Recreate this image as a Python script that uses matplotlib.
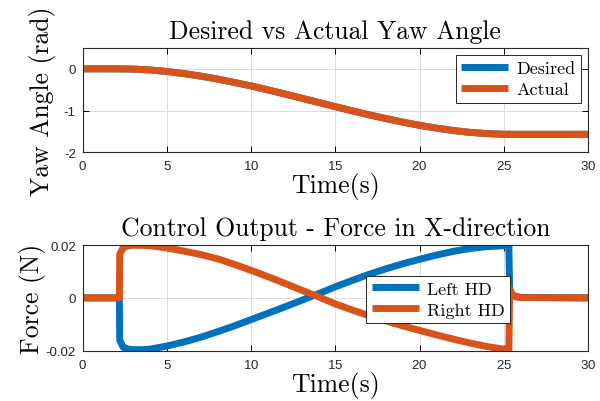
import matplotlib
matplotlib.use('Agg')
import matplotlib.pyplot as plt

plt.rcParams['font.family'] = ['Liberation Sans', 'DejaVu Sans']
plt.rcParams['axes.formatter.use_mathtext'] = True

BLUE = '#0072BD'
ORANGE = '#D95319'

# yaw angle (rad), desired and actual overlap
t_yaw = [0, 1, 2, 3, 4, 5, 6, 7, 8, 9, 10, 11, 12, 13, 14, 15, 16, 17, 18, 19,
         20, 21, 22, 23, 24, 25, 26, 27, 28, 29, 30]
yaw_desired = [0, 0, 0, -0.005, -0.027, -0.062, -0.113, -0.174, -0.245, -0.326,
               -0.41, -0.506, -0.603, -0.705, -0.806, -0.908, -1.007, -1.103,
               -1.193, -1.278, -1.356, -1.422, -1.480, -1.525, -1.555, -1.570,
               -1.571, -1.571, -1.571, -1.571, -1.571]
yaw_actual = [0, 0, 0, -0.005, -0.027, -0.062, -0.113, -0.174, -0.245, -0.326,
              -0.41, -0.506, -0.603, -0.705, -0.806, -0.908, -1.007, -1.103,
              -1.193, -1.278, -1.356, -1.422, -1.480, -1.525, -1.555, -1.570,
              -1.571, -1.571, -1.571, -1.571, -1.571]

# control force (N)
t_force = [0, 2.17, 2.19, 2.4, 2.7, 3, 3.5, 4, 5, 6, 7, 8, 9, 10, 11, 12, 13, 14,
           15, 16, 17, 18, 19, 20, 21, 22, 23, 24, 25, 25.3, 25.35, 25.5, 25.7,
           26, 30]
left_hd = [0, 0, -0.0160, -0.0187, -0.0194, -0.0196, -0.0196, -0.0194, -0.0182,
           -0.0167, -0.0149, -0.0128, -0.0106, -0.0082, -0.0058, -0.0034,
           -0.0009, 0.0016, 0.0042, 0.0066, 0.0089, 0.0110, 0.0129, 0.0146,
           0.0162, 0.0176, 0.0187, 0.0194, 0.0197, 0.0198, 0.0018, 0.0012,
           0.0006, 0.0002, 0]
right_hd = [0, 0, 0.0165, 0.0190, 0.0197, 0.0199, 0.0199, 0.0197, 0.0189,
            0.0177, 0.0164, 0.0148, 0.0127, 0.0104, 0.0080, 0.0055, 0.0029,
            0.0004, -0.0023, -0.0046, -0.0067, -0.0087, -0.0106, -0.0123,
            -0.0140, -0.0156, -0.0171, -0.0184, -0.0194, -0.0197, 0.0035,
            0.0012, 0.0004, 0.0001, 0]

serif = 'cmr10'
fig = plt.figure(figsize=(6.0, 4.02), dpi=100)
ax1 = fig.add_axes([0.138, 0.619, 0.842, 0.259])
ax2 = fig.add_axes([0.138, 0.125, 0.842, 0.263])

lw = 5
big = 18.5

def style(ax):
    ax.grid(True, color='#dcdcdc', lw=0.7)
    ax.set_axisbelow(True)
    ax.tick_params(direction='in', top=True, right=True, labelsize=9.5,
                   labelcolor='#262626', length=4, width=0.7, pad=5)
    for s in ax.spines.values():
        s.set_color('#262626')
        s.set_linewidth(0.8)

def legend(ax, **kw):
    leg = ax.legend(prop={'family': serif, 'size': 13},
                    handlelength=2.6, handletextpad=0.45, borderpad=0.3,
                    labelspacing=0.3, fancybox=False, framealpha=1,
                    edgecolor='#262626', **kw)
    leg.get_frame().set_linewidth(0.7)
    for h in leg.get_lines():
        h.set_solid_capstyle('butt')
    return leg

ax1.plot(t_yaw, yaw_desired, color=BLUE, lw=lw, label='Desired', solid_joinstyle='round')
ax1.plot(t_yaw, yaw_actual, color=ORANGE, lw=lw, label='Actual', solid_joinstyle='round')
ax1.set_xlim(0, 30)
ax1.set_ylim(-2, 0.5)
ax1.set_yticks([-2, -1, 0])
ax1.set_yticklabels(['-2', '-1', '0'])
ax1.set_xticks(range(0, 31, 5))
style(ax1)
ax1.set_title('Desired vs Actual Yaw Angle', family=serif, fontsize=big, pad=7)
ax1.set_xlabel('Time(s)', family=serif, fontsize=big, labelpad=0)
ax1.set_ylabel('Yaw Angle (rad)', family=serif, fontsize=big, labelpad=6)
legend(ax1, loc='upper right', borderaxespad=0.4)

ax2.plot(t_force, left_hd, color=BLUE, lw=lw, label='Left HD', solid_joinstyle='round')
ax2.plot(t_force, right_hd, color=ORANGE, lw=lw, label='Right HD', solid_joinstyle='round')
ax2.set_xlim(0, 30)
ax2.set_ylim(-0.02, 0.02)
ax2.set_yticks([-0.02, 0, 0.02])
ax2.set_yticklabels(['-0.02', '0', '0.02'])
ax2.set_xticks(range(0, 31, 5))
style(ax2)
ax2.set_title('Control Output - Force in X-direction', family=serif, fontsize=big, pad=7)
ax2.set_xlabel('Time(s)', family=serif, fontsize=big, labelpad=0)
ax2.set_ylabel('Force (N)', family=serif, fontsize=big, labelpad=0)
legend(ax2, loc='upper left', bbox_to_anchor=(0.561, 0.71), borderaxespad=0)

fig.savefig('out.png', dpi=100, facecolor='white')
